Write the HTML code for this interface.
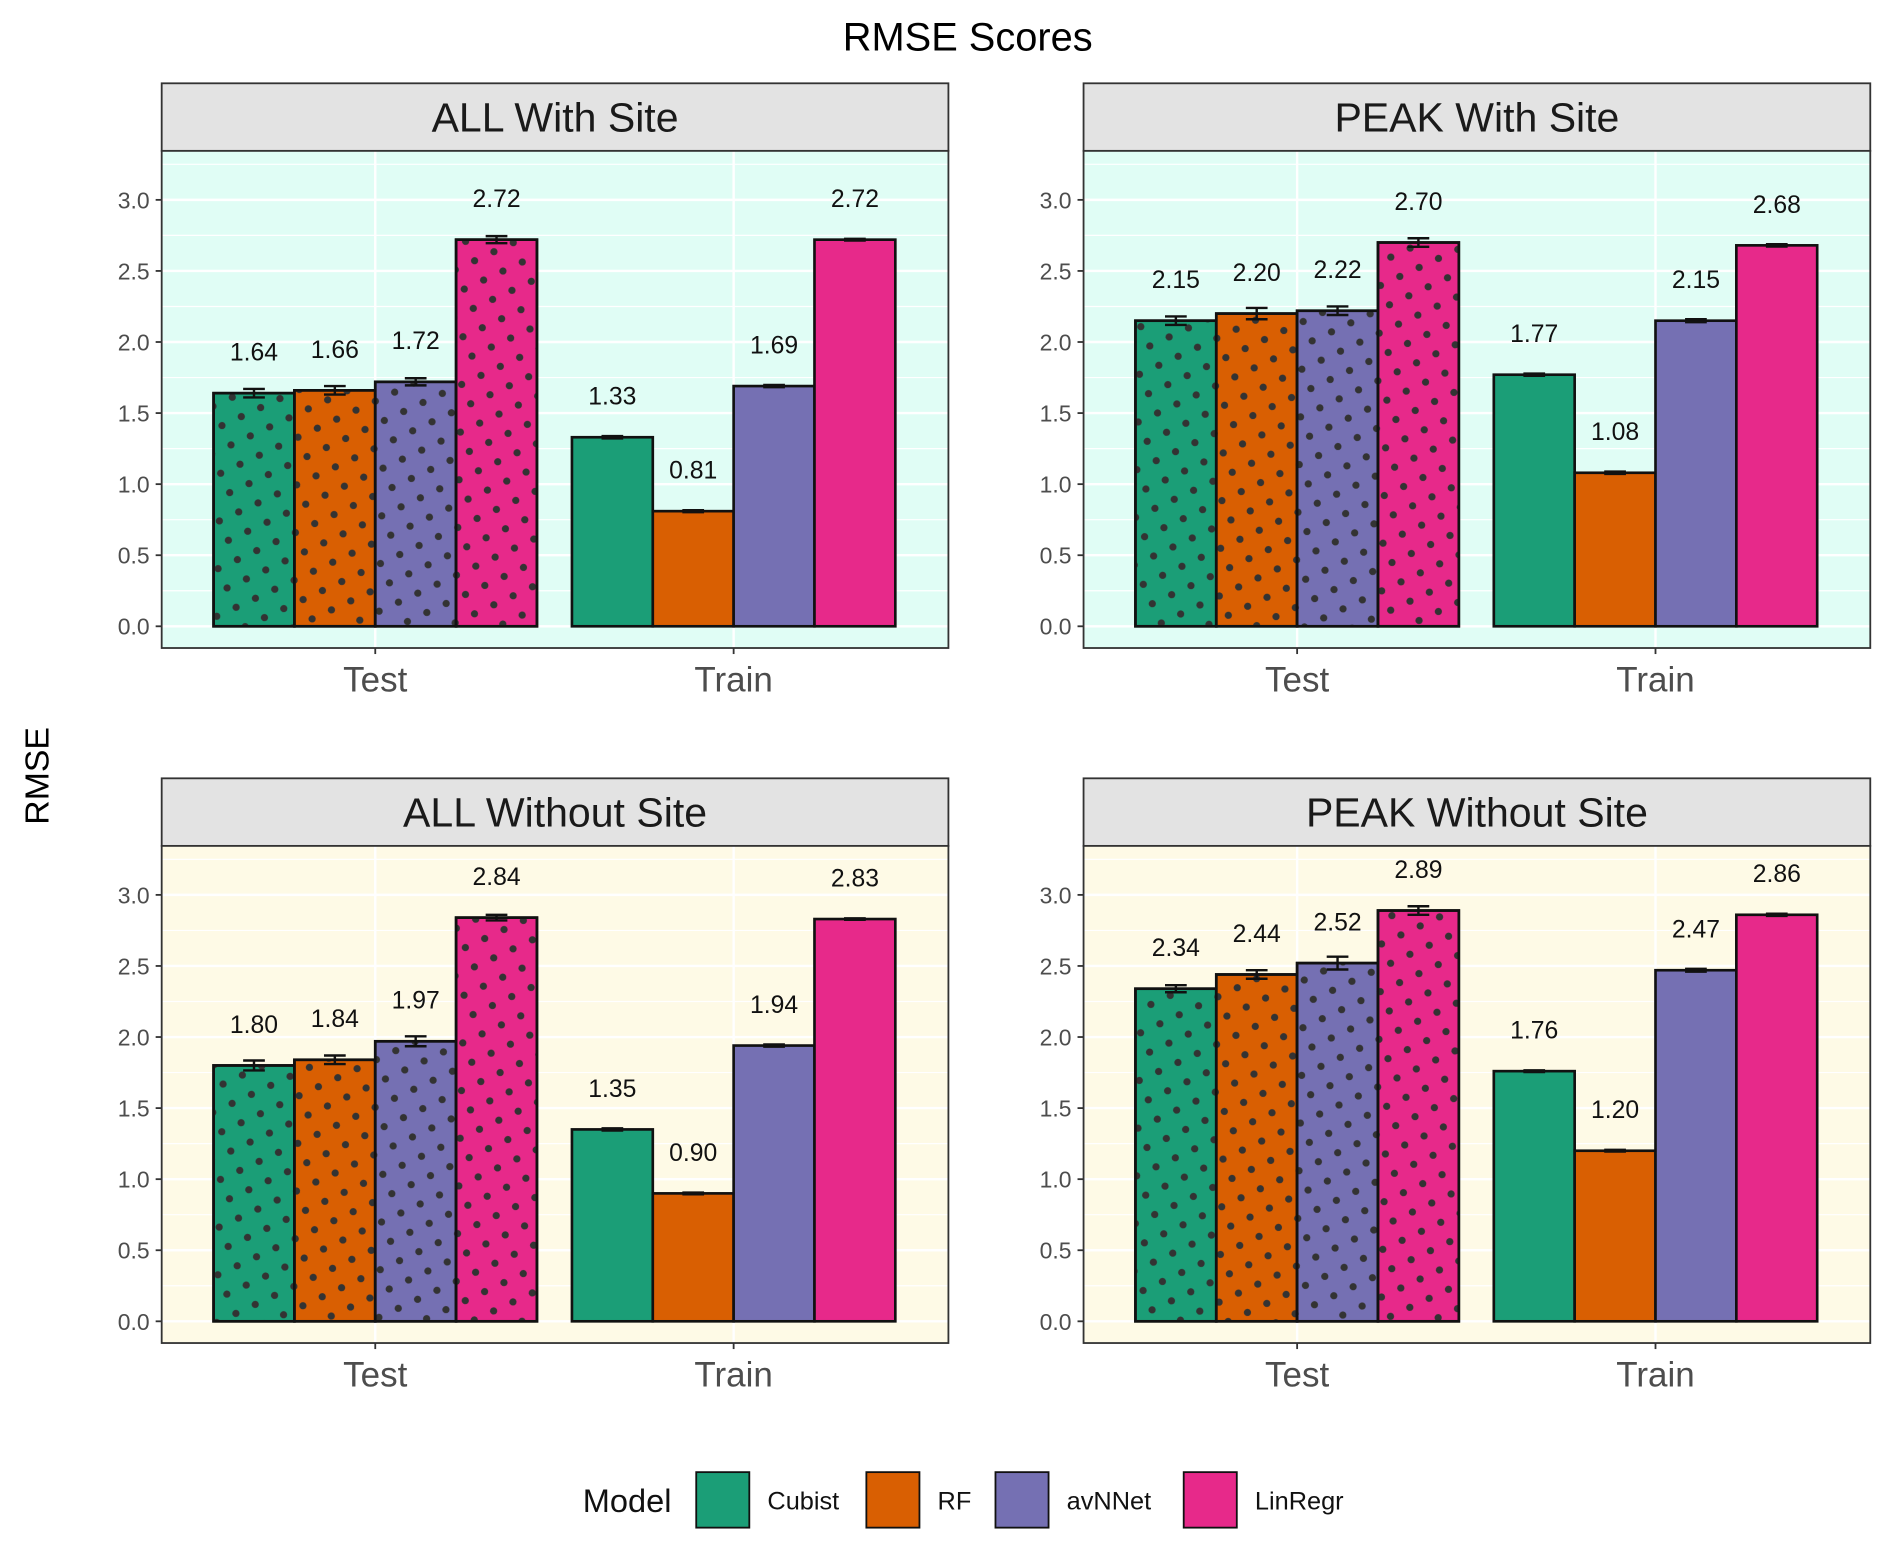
<!DOCTYPE html>
<html><head><meta charset="utf-8"><style>
html,body{margin:0;padding:0;background:#fff;}
svg{display:block;font-family:"Liberation Sans",sans-serif;}
</style></head><body>
<svg id="chart" width="1892" height="1547" viewBox="0 0 1568 1282" xmlns="http://www.w3.org/2000/svg">
<defs>
<pattern id="dots" patternUnits="userSpaceOnUse" width="25" height="25" patternTransform="rotate(20)">
<circle cx="6" cy="6" r="3" fill="#333"/>
<circle cx="18.5" cy="18.5" r="3" fill="#333"/>
</pattern>
</defs>
<rect width="1568" height="1282" fill="#fff"/>
<text x="802" y="42" font-size="33" text-anchor="middle">RMSE Scores</text>
<text transform="translate(40,643) rotate(-90)" font-size="28" text-anchor="middle">RMSE</text>
<g id="panels"></g>
<g id="legend"></g>
</svg>
<script>
const models = ["Cubist","RF","avNNet","LinRegr"];
const colors = ["#1b9e77","#d95f02","#7570b3","#e7298a"];
const splits = ["Test","Train"];
const panelTitles = ["ALL With Site","PEAK With Site","ALL Without Site","PEAK Without Site"];
const testVals = [[1.64,1.66,1.72,2.72],[2.15,2.20,2.22,2.70],[1.80,1.84,1.97,2.84],[2.34,2.44,2.52,2.89]];
const trainVals = [[1.33,0.81,1.69,2.72],[1.77,1.08,2.15,2.68],[1.35,0.90,1.94,2.83],[1.76,1.20,2.47,2.86]];
const testErr = [[0.03,0.03,0.025,0.025],[0.03,0.04,0.03,0.03],[0.035,0.03,0.035,0.02],[0.025,0.03,0.045,0.03]];
const trainErr = [[0.008,0.007,0.008,0.006],[0.008,0.008,0.01,0.008],[0.008,0.006,0.008,0.005],[0.006,0.006,0.01,0.008]];
const yTicks = [0,0.5,1,1.5,2,2.5,3];
const yTickLabels = ["0.0","0.5","1.0","1.5","2.0","2.5","3.0"];

const NS="http://www.w3.org/2000/svg";
function mk(tag,attrs,parent){const e=document.createElementNS(NS,tag);for(const k in attrs)e.setAttribute(k,attrs[k]);parent.appendChild(e);return e;}
const panelsG=document.getElementById('panels');
const layouts=[{x0:134,top:69},{x0:898,top:69},{x0:134,top:645},{x0:898,top:645}];
const bgs=["#e0fdf5","#e0fdf5","#fefae6","#fefae6"];
layouts.forEach((L,p)=>{
  const g=mk('g',{},panelsG);
  
  
  const W=652, stripH=56, plotTop=L.top+stripH, plotH=412, plotBot=plotTop+plotH;
  const zeroY=plotTop+394;
  const yS=v=>zeroY-v*117.8;
  const xC=i=>L.x0+177+i*297;
  const strip=mk('rect',{x:L.x0,y:L.top,width:W,height:stripH,fill:'#e3e3e3',stroke:'#333','stroke-width':1.5},g);
  
  
  const st=mk('text',{x:L.x0+W/2,y:L.top+40,'font-size':34,'text-anchor':'middle',fill:'#1a1a1a'},g);
  st.textContent=panelTitles[p];
  
  
  mk('rect',{x:L.x0,y:plotTop,width:W,height:plotH,fill:bgs[p]},g);
  for(let v=0.25;v<3.3;v+=0.5){ if(yS(v)>plotTop) mk('line',{x1:L.x0,x2:L.x0+W,y1:yS(v),y2:yS(v),stroke:'#fff','stroke-width':1},g);}
  yTicks.forEach((v,i)=>{
    mk('line',{x1:L.x0,x2:L.x0+W,y1:yS(v),y2:yS(v),stroke:'#fff','stroke-width':2},g);
    mk('line',{x1:L.x0-5,x2:L.x0,y1:yS(v),y2:yS(v),stroke:'#333','stroke-width':1.5},g);
    const t=mk('text',{x:L.x0-10,y:yS(v)+7,'font-size':19,'text-anchor':'end',fill:'#4d4d4d'},g);
    t.textContent=yTickLabels[i];
    
    
  });
  splits.forEach((s,si)=>{
    const cx=xC(si);
    mk('line',{x1:cx,x2:cx,y1:plotTop,y2:plotBot,stroke:'#fff','stroke-width':2},g);
    mk('line',{x1:cx,x2:cx,y1:plotBot,y2:plotBot+5,stroke:'#333','stroke-width':1.5},g);
    const t=mk('text',{x:cx,y:plotBot+36,'font-size':29,'text-anchor':'middle',fill:'#4d4d4d'},g);
    t.textContent=s;
    
    
    const vals=si===0?testVals[p]:trainVals[p];
    const errs=si===0?testErr[p]:trainErr[p];
    const bw=67;
    vals.forEach((v,m)=>{
      const bx=cx-134+m*bw;
      const r=mk('rect',{x:bx,y:yS(v),width:bw,height:zeroY-yS(v),fill:colors[m],stroke:'#111','stroke-width':2.2},g);
      
      
      if(si===0) mk('rect',{x:bx,y:yS(v),width:bw,height:zeroY-yS(v),fill:'url(#dots)',stroke:'#111','stroke-width':2.2},g);
      const ex=bx+bw/2, e=errs[m];
      const eb=mk('path',{d:`M${ex-9},${yS(v+e)}H${ex+9}M${ex},${yS(v+e)}V${yS(v-e)}M${ex-9},${yS(v-e)}H${ex+9}`,stroke:'#111','stroke-width':2,fill:'none'},g);
      
      
      const lt=mk('text',{x:ex,y:yS(v)-27,'font-size':20.5,'text-anchor':'middle',fill:'#111'},g);
      lt.textContent=v.toFixed(2);
      
      
    });
  });
  mk('rect',{x:L.x0,y:plotTop,width:W,height:plotH,fill:'none',stroke:'#333','stroke-width':1.5},g);
});
const lg=document.getElementById('legend');
const lt=mk('text',{x:483,y:1253,'font-size':27,fill:'#111'},lg);
lt.textContent='Model';


const keyX=[577,718,825,981];
models.forEach((m,i)=>{
  const r=mk('rect',{x:keyX[i],y:1220,width:44,height:46,fill:colors[i],stroke:'#111','stroke-width':1.5},lg);
  
  
  const t=mk('text',{x:keyX[i]+59,y:1251,'font-size':21,fill:'#111'},lg);
  t.textContent=m;
  
  
});
</script>
</body></html>
